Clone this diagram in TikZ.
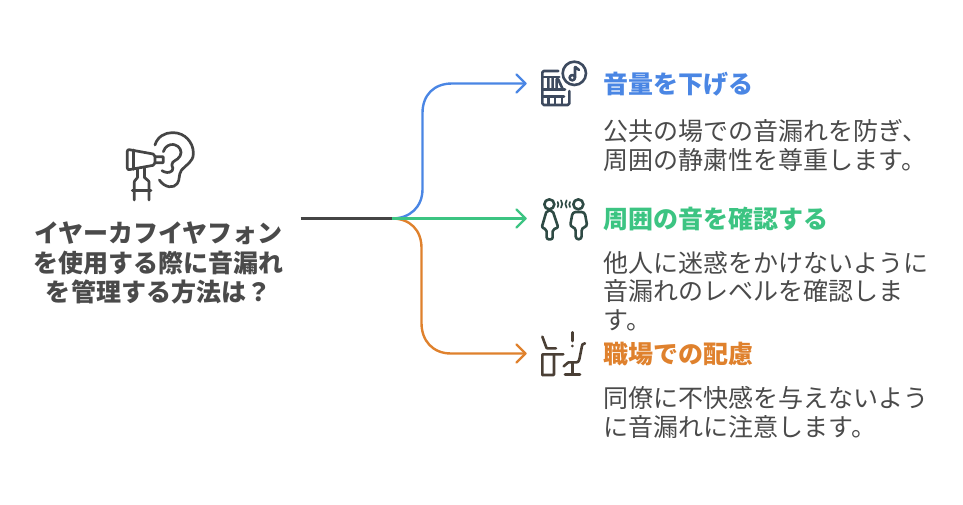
\documentclass[tikz,border=0pt]{standalone}
\usepackage{fontspec}
\usetikzlibrary{calc}
\setmainfont{Noto Sans CJK JP}
\definecolor{cblue}{HTML}{4A86E4}
\definecolor{cgreen}{HTML}{3CC482}
\definecolor{corange}{HTML}{DF812D}
\definecolor{cdark}{HTML}{454545}
\definecolor{ctext}{HTML}{4A4A4A}
\definecolor{iconblue}{HTML}{3D4A5F}
\definecolor{icongreen}{HTML}{2E4A44}
\definecolor{iconbrown}{HTML}{4A3F35}
\tikzset{
  every node/.style={inner sep=0pt,outer sep=0pt},
  hub/.style={font=\fontsize{25pt}{29.4pt}\selectfont\bfseries,text=ctext,align=center,anchor=center},
  head/.style={font=\fontsize{25pt}{29pt}\selectfont\bfseries,anchor=west},
  body/.style={font=\fontsize{25pt}{28.8pt}\selectfont,text=ctext,align=left,anchor=north west},
  wire/.style={line width=2.4pt,line cap=round,line join=round},
  tip/.style={line width=2.4pt,line cap=round,line join=round},
  icon/.style={line cap=round,line join=round,rounded corners=0.6pt},
}
\begin{document}
\begin{tikzpicture}[x=1pt,y=-1pt]
\useasboundingbox (0,0) rectangle (963,505);
% nodes
\node[hub] (hubtext) at (158.5,263) {イヤーカフイヤフォン\\を使用する際に音漏れ\\を管理する方法は？};
\node[head,text=cblue] (h1) at (603.5,84) {音量を下げる};
\node[head,text=cgreen] (h2) at (603.5,219) {周囲の音を確認する};
\node[head,text=corange] (h3) at (603.5,354) {職場での配慮};
\node[body] (b1) at (603.5,119.5) {公共の場での音漏れを防ぎ、\\周囲の静粛性を尊重します。};
\node[body] (b2) at (603.5,251) {他人に迷惑をかけないように\\音漏れのレベルを確認しま\\す。};
\node[body] (b3) at (603.5,386.5) {同僚に不快感を与えないよう\\に音漏れに注意します。};
% connector points
\coordinate (start) at (300.5,218.5);
\coordinate (hub) at (392,218.5);
\coordinate (e1) at (525.5,83.5);
\coordinate (e2) at (525.5,218.5);
\coordinate (e3) at (525.5,353.5);
% connectors
\draw[wire,corange] (hub) .. controls (410,218.5) and (421.5,230) .. (421.5,248) -- (421.5,323) .. controls (421.5,341) and (433,353.5) .. (451,353.5) -- (e3);
\draw[wire,cblue] (hub) .. controls (410,218.5) and (422.5,207) .. (422.5,189) -- (422.5,113) .. controls (422.5,95) and (434,83.5) .. (452,83.5) -- (e1);
\draw[wire,cgreen] (hub) -- (e2);
\draw[wire,cdark,line cap=butt] (start) -- (hub);
\draw[tip,cblue] ($(e1)+(-9,-9)$) -- (e1) -- ($(e1)+(-9,9)$);
\draw[tip,cgreen] ($(e2)+(-9,-9)$) -- (e2) -- ($(e2)+(-9,9)$);
\draw[tip,corange] ($(e3)+(-9,-9)$) -- (e3) -- ($(e3)+(-9,9)$);
% ear icon
\begin{scope}[shift={(100,120)},x=0.3333pt,y=-0.3333pt,icon,line width=2.7pt,cdark]
\draw[rounded corners=2pt] (82,88) -- (165,103) -- (165,135) -- (82,150) -- cycle;
\draw (100,90) -- (100,148);
\draw (165,110) -- (190,110) -- (190,128) -- (165,128);
\draw (113,146) -- (113,172) (133,142) -- (133,172);
\draw (113,172) -- (103,184) -- (103,240) (133,172) -- (147,184) -- (147,240);
\draw (97,212) -- (153,212);
\draw (165,75) .. controls (172,50) and (195,38) .. (218,38) .. controls (255,38) and (280,68) .. (280,100) .. controls (280,125) and (258,135) .. (245,150) .. controls (235,165) and (240,178) .. (232,190) .. controls (222,205) and (195,205) .. (178,180);
\draw (190,95) .. controls (195,78) and (210,72) .. (222,74) .. controls (240,78) and (247,95) .. (240,108) .. controls (232,122) and (216,122) .. (216,135) .. controls (216,142) and (222,145) .. (216,152) .. controls (208,160) and (195,158) .. (186,152);
\end{scope}
% bookshelf icon
\begin{scope}[shift={(530,55)},x=0.3333pt,y=-0.3333pt,icon,line width=2.6pt,iconblue]
\draw[rounded corners=1.5pt] (85,48) -- (37,48) -- (37,150) -- (118,150) -- (118,108);
\draw (37,66) -- (88,66) (37,103) -- (105,103) (37,125) -- (102,125);
\draw (55,68) -- (55,100) (68,68) -- (68,100) (80,72) -- (80,100) (84,72) -- (97,100);
\draw (55,125) -- (55,148) (75,125) -- (75,148) (96,125) -- (96,148);
\draw (133,55) circle[radius=35];
\draw (135,68) -- (135,35) -- (147,45);
\draw (127,68) circle[radius=8];
\end{scope}
% people icon
\begin{scope}[shift={(530,190)},x=0.3333pt,y=-0.3333pt,icon,line width=2.6pt,icongreen]
\draw (58,43) circle[radius=15];
\draw (145,43) circle[radius=15];
\draw[rounded corners=2pt] (50,62) -- (68,62) -- (85,113) -- (68,118) -- (68,148) -- (50,148) -- (50,118) -- (35,113) -- cycle;
\draw[rounded corners=3pt] (128,66) -- (164,66) -- (172,110) -- (155,113) -- (155,148) -- (137,148) -- (137,113) -- (120,110) -- cycle;
\begin{scope}[line width=1.7pt]
\draw (83,36) .. controls (86,40) and (86,47) .. (83,51);
\draw (93,31) .. controls (98,38) and (98,46) .. (93,53);
\draw (120,36) .. controls (117,40) and (117,47) .. (120,51);
\draw (110,31) .. controls (105,38) and (105,46) .. (110,53);
\end{scope}
\end{scope}
% office icon
\begin{scope}[shift={(530,325)},x=0.3333pt,y=-0.3333pt,icon,line width=2.6pt,iconbrown]
\draw (37,35) -- (50,70) -- (78,70);
\draw (37,150) -- (37,88) -- (100,88);
\draw (72,88) -- (72,150) -- (37,150);
\draw (127,22) -- (127,48);
\fill (127,63) circle[radius=4.5];
\draw (165,55) .. controls (157,55) and (156,60) .. (155,68) -- (148,103) .. controls (146,110) and (143,112) .. (138,112) -- (115,112) -- (101,124);
\draw (128,113) -- (128,148);
\draw (105,148) -- (150,148);
\end{scope}
\end{tikzpicture}
\end{document}
